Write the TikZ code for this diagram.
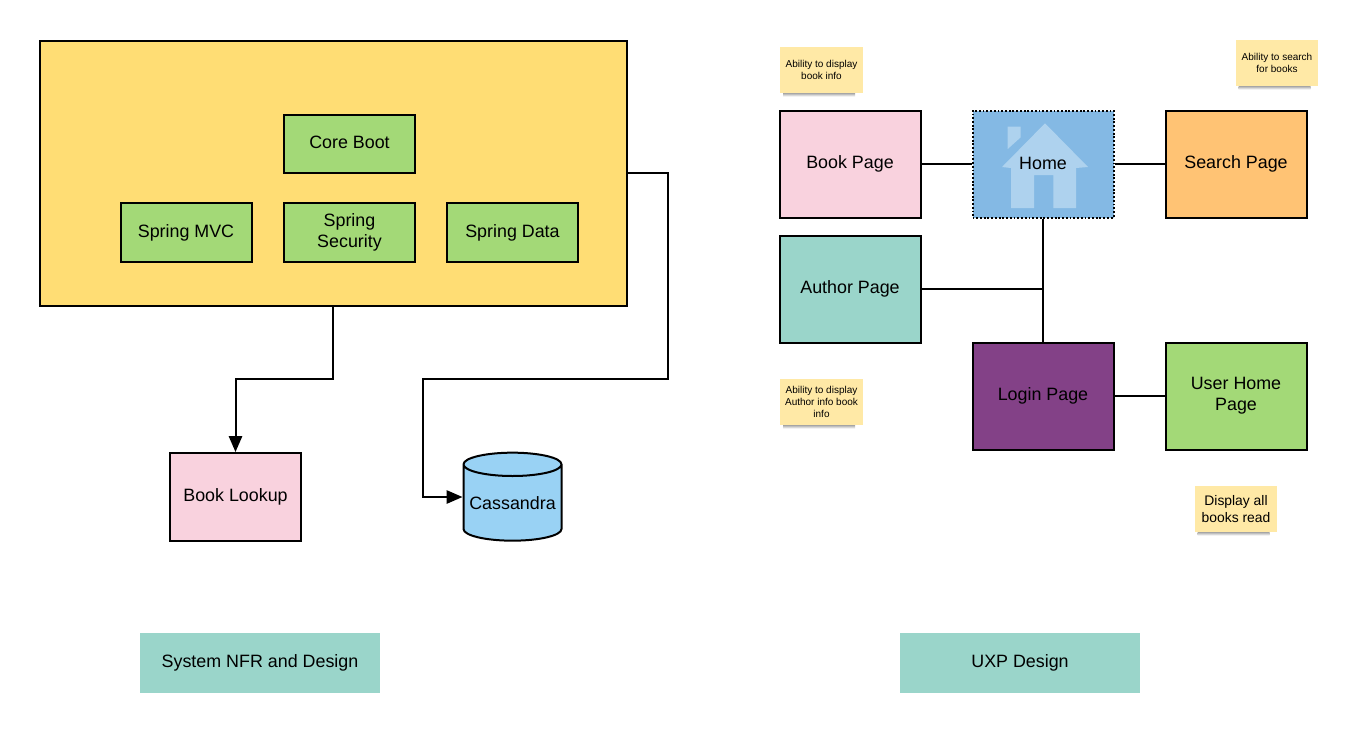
\documentclass[tikz,border=0pt]{standalone}
\usepackage{fontspec}
\setmainfont{Liberation Sans}
\usetikzlibrary{arrows.meta,shapes.geometric}
\definecolor{coreyellow}{HTML}{FFDD74}
\definecolor{boxgreen}{HTML}{A3D977}
\definecolor{boxpink}{HTML}{F9D2DE}
\definecolor{boxteal}{HTML}{9AD5CA}
\definecolor{boxorange}{HTML}{FFC374}
\definecolor{boxpurple}{HTML}{834187}
\definecolor{boxblue}{HTML}{84B9E4}
\definecolor{houseblue}{HTML}{AED2EE}
\definecolor{dbblue}{HTML}{99D2F4}
\definecolor{notefill}{HTML}{FFE9A6}
\tikzset{
    pagebox/.style={draw=black,line width=1.5pt,minimum width=105.75pt,minimum height=80.25pt,
        align=center,font=\fontsize{13.4}{16}\selectfont},
    techbox/.style={draw=black,fill=boxgreen,line width=1.5pt,minimum width=98.25pt,minimum height=44pt,
        align=center,font=\fontsize{13.4}{16}\selectfont},
    legend/.style={fill=boxteal,minimum width=180pt,minimum height=45pt,font=\fontsize{13.4}{16}\selectfont},
    note/.style={fill=notefill,minimum width=62pt,minimum height=34.5pt,inner sep=0pt,align=center,
        font=\fontsize{7.5}{9}\selectfont},
    link/.style={line width=1.5pt},
    arrowlink/.style={line width=1.5pt,-{Triangle[length=12pt,width=10pt]}}
}
\begin{document}
\begin{tikzpicture}[x=0.75pt,y=-0.75pt]
    \useasboundingbox (0,0) rectangle (1370,733);
    % left side
    \node[draw=black,fill=coreyellow,line width=1.5pt,minimum width=440.25pt,minimum height=198.75pt] (core) at (333.5,173.5) {};
    \node[techbox,text depth=3pt] (boot) at (349.5,144) {Core Boot};
    \node[techbox,text depth=1.5pt] (mvc) at (186,232.5) {Spring MVC};
    \node[techbox] (security) at (349.5,232.5) {Spring\\Security};
    \node[techbox,text depth=1.5pt] (data) at (512.5,232.5) {Spring Data};
    \node[pagebox,minimum width=98.25pt,minimum height=66pt,fill=boxpink] (lookup) at (235.5,497) {Book Lookup};
    \node[cylinder,shape border rotate=90,aspect=0.27,draw=black,line width=1.5pt,cylinder uses custom fill,
        cylinder body fill=dbblue,cylinder end fill=dbblue,minimum width=73.5pt,minimum height=66pt,inner sep=0pt,
        font=\fontsize{13.4}{16}\selectfont] (db) at (512.5,503) {Cassandra};
    \coordinate (coreout) at (333,306);
    \coordinate (turnA) at (333,379);
    \coordinate (turnB) at (668,173);
    \coordinate (turnC) at (668,379);
    \coordinate (turnD) at (423,379);
    \coordinate (turnE) at (423,497);
    \draw[arrowlink] (coreout)--(turnA)-|(lookup.north);
    \draw[arrowlink] (core.east |- turnB)--(turnB)--(turnC)--(turnD)--(turnE)--(db.west |- turnE);
    \node[legend] (nfr) at (260,663) {System NFR and Design};
    % right side
    \node[pagebox,fill=boxpink] (book) at (850,164) {Book Page};
    \node[pagebox,fill=boxblue,draw=none] (homebg) at (1043,164) {};
    \fill[houseblue] (1045,123.3)--(1088,167)--(1076,168)--(1076,208)--(1053.3,208)--(1053.3,175)--(1034,175)--(1034,208)
        --(1011,208)--(1011,168)--(1002,167)--cycle;
    \fill[houseblue] (1007.7,126.7)--(1020.7,126.7)--(1020.7,137.3)--(1007.7,149)--cycle;
    \node[pagebox,draw=black,dash pattern=on 1.4pt off 1.4pt,text depth=1.5pt] (home) at (1043,164) {Home};
    \node[pagebox,fill=boxorange] (search) at (1236,164) {Search Page};
    \node[pagebox,fill=boxteal] (author) at (850,289) {Author Page};
    \node[pagebox,fill=boxpurple] (login) at (1043,396) {Login Page};
    \node[pagebox,fill=boxgreen] (user) at (1236,396) {User Home\\Page};
    \draw[link] (book)--(home);
    \draw[link] (home)--(search);
    \draw[link] (home.south)--(login.north);
    \draw[link] (author.east)--(author.east -| login.north);
    \draw[link] (login)--(user);
    % sticky notes
    \foreach \nx/\ny in {822/70,1277.5/63,822/402,1236.5/509}
        \shade[top color=black!35,bottom color=white] (\nx-39,\ny+23) rectangle (\nx+33,\ny+26.5);
    \node[note] (noteA) at (821.5,70) {Ability to display\\book info};
    \node[note] (noteB) at (1277,63) {Ability to search\\for books};
    \node[note] (noteC) at (821.5,402) {Ability to display\\Author info book\\info};
    \node[note,font=\fontsize{10.4}{12.8}\selectfont] (noteD) at (1236,509) {Display all\\books read};
    \node[legend] (uxp) at (1020,663) {UXP Design};
\end{tikzpicture}
\end{document}
